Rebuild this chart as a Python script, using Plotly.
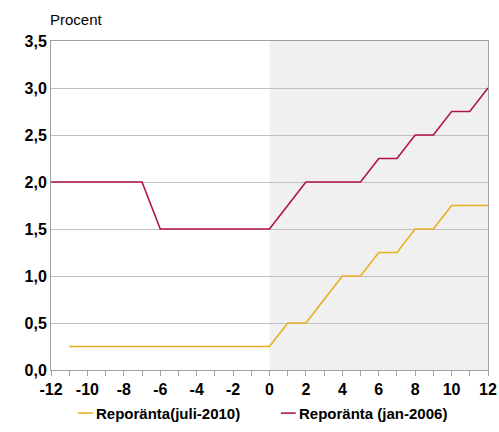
import plotly.graph_objects as go

months = list(range(-12, 13))
repo_jan2006 = [2.0, 2.0, 2.0, 2.0, 2.0, 2.0, 1.5, 1.5, 1.5, 1.5, 1.5, 1.5, 1.5,
                1.75, 2.0, 2.0, 2.0, 2.0, 2.25, 2.25, 2.5, 2.5, 2.75, 2.75, 3.0]
months_jul = list(range(-11, 13))
repo_jul2010 = [0.25] * 12 + [0.5, 0.5, 0.75, 1.0, 1.0, 1.25, 1.25, 1.5, 1.5, 1.75, 1.75, 1.75]

names = ["Reporänta(juli-2010)", "Reporänta (jan-2006)"]
colors = ["#E8B020", "#B0124A"]

y_ticks = [0, 0.5, 1.0, 1.5, 2.0, 2.5, 3.0, 3.5]
y_ticktext = [f"{v:.1f}".replace(".", ",") for v in y_ticks]
x_ticks = list(range(-12, 13, 2))
x_ticktext = [str(v) for v in x_ticks]

fig = go.Figure()
fig.add_trace(go.Scatter(x=months_jul, y=repo_jul2010, mode="lines", name=names[0],
                         line=dict(color=colors[0], width=1.6), showlegend=False))
fig.add_trace(go.Scatter(x=months, y=repo_jan2006, mode="lines", name=names[1],
                         line=dict(color=colors[1], width=1.6), showlegend=False))

fig.add_shape(type="rect", xref="x", yref="paper", x0=0, x1=12, y0=0, y1=1,
              fillcolor="#F0F0F0", line=dict(width=0), layer="below")

# custom legend (short line samples like the original)
leg_y = -0.131
leg_x = [0.0618, 0.526]
annotations = [dict(text="Procent", xref="paper", yref="paper", x=-0.007, y=1.064,
                    xanchor="left", yanchor="middle", showarrow=False,
                    font=dict(size=15, color="black"))]
for lx, nm, col in zip(leg_x, names, colors):
    fig.add_shape(type="line", xref="paper", yref="paper", x0=lx, x1=lx + 0.034,
                  y0=leg_y, y1=leg_y, line=dict(color=col, width=1.6))
    annotations.append(dict(text=nm, xref="paper", yref="paper", x=lx + 0.036, y=leg_y,
                            xanchor="left", yanchor="middle", showarrow=False,
                            font=dict(size=15, color="black", weight="bold")))

fig.update_layout(
    width=499, height=432,
    margin=dict(l=51, r=11, t=41, b=62),
    plot_bgcolor="white", paper_bgcolor="white",
    font=dict(family="Liberation Sans, Arial, sans-serif", size=16, color="black"),
    showlegend=False,
    annotations=annotations,
)
fig.update_xaxes(range=[-12, 12], tickvals=x_ticks, ticktext=x_ticktext,
                 ticks="outside", ticklen=5, tickcolor="#A0A0A0", automargin=False,
                 showgrid=False, zeroline=False,
                 showline=True, linecolor="#A0A0A0", linewidth=1, mirror=True,
                 tickfont=dict(size=16, weight="bold"),
                 minor=dict(dtick=1, ticks="outside", ticklen=5, tickcolor="#A0A0A0"))
fig.update_yaxes(range=[0, 3.5], tickvals=y_ticks, ticktext=y_ticktext, automargin=False,
                 showgrid=True, gridcolor="#C0C0C0", gridwidth=1, zeroline=False,
                 showline=True, linecolor="#A0A0A0", linewidth=1, mirror=True,
                 ticks="", tickfont=dict(size=16, weight="bold"))

fig.write_html("out.html", config={"displayModeBar": False},
               post_script="document.body.style.margin='0';")
